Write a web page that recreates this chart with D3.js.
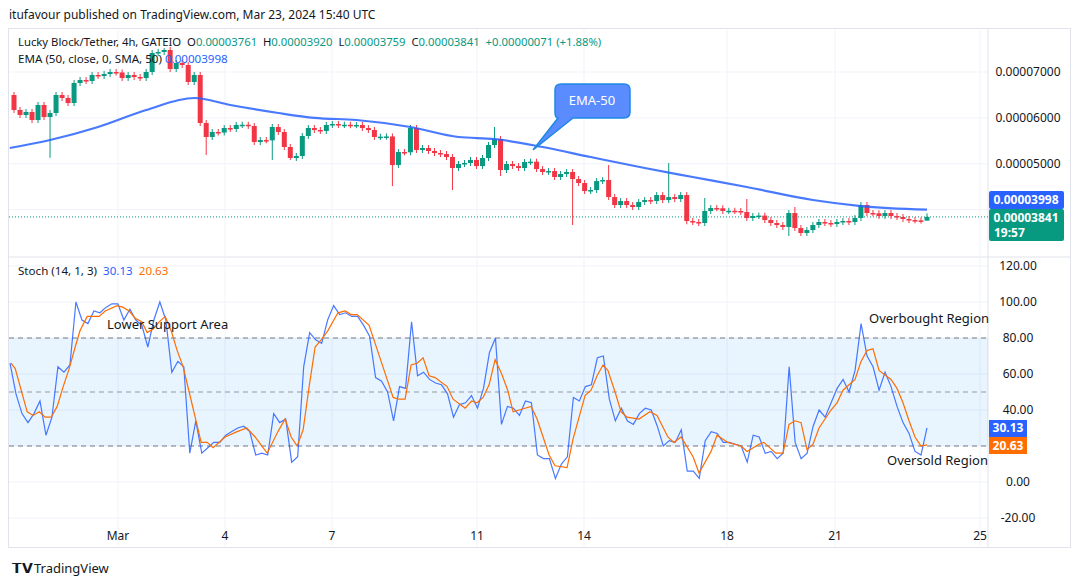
<!DOCTYPE html>
<html><head><meta charset="utf-8">
<script src="https://cdn.jsdelivr.net/npm/d3@7"></script>
<style>body{margin:0;background:#fff;font-family:"Noto Sans",Roboto,sans-serif} text{white-space:pre}</style>
</head><body><svg id="c" width="1080" height="586"></svg>
<script>
// prices in units of 1e-8 USDT
const closes=[6172,6063,6128,5954,6281,6019,6106,6499,6433,6324,6760,6826,6804,6935,6913,6956,7000,6990,6869,6935,6891,6869,7000,7414,7436,7480,7065,7196,7152,6782,6935,5888,5583,5692,5680,5779,5757,5845,5850,5823,5474,5517,5510,5801,5692,5365,5125,5169,5605,5779,5736,5714,5845,5866,5845,5850,5840,5845,5779,5736,5583,5590,5595,4972,5256,5250,5779,5300,5343,5278,5234,5212,5147,4907,4994,5016,5082,4950,5125,5409,5539,4863,4994,4950,4907,5038,5045,4885,4820,4841,4711,4776,4820,4667,4580,4405,4427,4623,4645,4274,4100,4187,4100,4057,4166,4209,4187,4318,4209,4274,4231,4318,3752,3730,3708,3970,4035,4030,3970,3975,3970,3948,3817,3861,3870,3773,3708,3664,3621,3926,3599,3490,3555,3664,3730,3708,3686,3730,3752,3730,3817,4100,3926,3920,3861,3926,3861,3839,3795,3773,3765,3761,3841];
const firstOpen=6499;
// notable wicks: [candle index, high, low]
const wicks=[[6,null,5130],[25,7520,null],[32,null,5190],[43,null,5082],[46,null,5080],[63,null,4514],[73,null,4427],[80,5801,null],[81,null,4733],[93,null,3664],[99,4972,null],[109,5016,null],[112,null,3680],[115,4253,null],[122,4231,null],[129,3991,3425],[130,4057,null],[141,4166,null],[152,3920,3759]];
// EMA 50 knots: [candle index, value]
const ema=[[-0.7,5343],[6,5518],[14,5801],[22,6172],[30,6433],[36,6281],[44,6106],[50,6000],[57,5954],[66,5801],[74,5583],[80,5539],[88,5365],[96,5147],[105,4907],[113,4711],[122,4493],[133,4209],[141,4078],[152,3998]];
const stochK=[66,49,38,33,38,45,26,36,64,61,65,100,90,88,95,94,97,99,99,90,96,90,87,75,90,100,90,61,67,64,16,34,16,19,22,22,26,28,30,31,28,15,16,15,38,33,35,11,14,64,83,79,77,
90,98,93,94,92,92,87,81,58,56,50,34,53,52,89,59,61,57,55,54,49,36,43,44,48,41,52,72,80,32,42,41,37,45,44,15,13,13,2,10,14,47,45,53,54,69,70,46,34,41,34,32,38,41,
40,31,20,23,22,29,6,6,2,23,28,27,22,22,21,20,11,26,25,16,17,13,16,64,22,13,16,31,40,36,44,52,57,50,62,88,70,64,51,61,53,42,33,27,17,15,30.13];
const stochD=[[0,66],[0.7,63],[2.7,39],[3.7,37],[4.7,39],[5.7,36],[6.7,36],[7.7,42],[8.7,53],[9.7,63],[10.7,75],[11.5,84],[12.7,92],[13.7,92],[14.7,92],[15.7,95],[17.7,98],[18.7,97],[19.7,95],[20.7,91],[21.8,89],[22.7,83],[23.7,85],[24.7,89],[25.7,92],[26.7,84],[27.7,73],[28.7,64],[29.7,50],[30.7,36],[31.7,22],[32.7,22],[33.7,19],[35.7,25],[37.7,28],[39.3,30],[40.7,25],[42.7,16],[44.5,28],[45.7,35],[46.7,25],[47.7,20],[48.7,29],[49.7,53],[50.7,75],[51.7,79],[52.8,84],[54.5,94],[55.7,95],[56.7,93],[57.7,93],[59.7,87],[60.7,77],[62.7,57],[63.7,47],[64.7,46],[65.7,46],[66.7,65],[67.7,66],[68.7,69],[69.7,59],[70.7,58],[72.7,53],[73.7,46],[75.7,41],[76.8,45],[77.7,44],[78.7,47],[79.7,54],[80.7,68],[81.8,60],[82.8,51],[83.7,39],[84.7,40],[86.7,42],[87.7,35],[88.7,25],[89.7,15],[90.7,9],[92.7,8],[93.7,24],[94.7,36],[95.7,48],[96.7,51],[97.7,59],[98.7,65],[99.5,62],[100.7,50],[101.7,39],[102.7,36],[104.7,35],[106.5,39],[107.7,37],[109.5,25],[110.5,22],[111.7,25],[113.7,14],[114.7,5],[116.7,17],[117.7,26],[119.5,22],[121.7,20],[122.7,17],[124.7,21],[125.5,22],[127.5,16],[128.7,16],[129.7,32],[130.7,34],[131.7,33],[132.7,18],[133.7,21],[134.7,30],[136.7,40],[137.7,44],[138.7,51],[140.7,57],[141.7,67],[142.7,73],[143.7,74],[144.7,62],[146.7,57],[147.7,52],[148.7,44],[149.7,34],[150.7,25],[151.7,20],[152.7,20.63]];
const priceTicks=["0.00005000","0.00006000","0.00007000"];
const priceTickVals=[5000,6000,7000];
const stochTicks=[-20,0,40,60,80,100,120];
const stochGrid=[-20,0,20,40,60,80,100,120];
const dateTicks=[["Mar",118],["4",225],["7",332],["11",477],["14",584],["18",727],["21",835],["25",980]];

const svg=d3.select("#c");
const GREEN="#089981",RED="#f23645",BLUE="#2962ff",ORANGE="#ff6d00",GRID="#f0f3fa",TXT="#131722";
const PL=9,PR=988,T1=30,B1=256,T2=258,B2=546;
svg.append("rect").attr("x",8.5).attr("y",28.5).attr("width",1062).attr("height",519).attr("fill","#fff").attr("stroke","#e0e3eb");
const x=d3.scaleLinear().domain([0,152]).range([14,927]);
const xk=d3.scaleLinear().domain([0,stochK.length-1]).range([10,927]);
const xd=d3.scaleLinear().domain([0,152.7]).range([11,927]);
const y=d3.scaleLinear().domain([3000,7000]).range([255.5,72]);
const ys=d3.scaleLinear().domain([0,100]).range([482,302]);
dateTicks.forEach(d=>{[[T1,B1],[T2,B2]].forEach(r=>svg.append("line").attr("x1",d[1]).attr("x2",d[1]).attr("y1",r[0]).attr("y2",r[1]).attr("stroke",GRID));});
[4000,5000,6000,7000].forEach(p=>svg.append("line").attr("x1",PL).attr("x2",PR).attr("y1",y(p)).attr("y2",y(p)).attr("stroke",GRID));
stochGrid.forEach(v=>svg.append("line").attr("x1",PL).attr("x2",PR).attr("y1",ys(v)).attr("y2",ys(v)).attr("stroke",GRID));
svg.append("line").attr("x1",PL).attr("x2",1070).attr("y1",257).attr("y2",257).attr("stroke","#e0e3eb");
svg.append("line").attr("x1",PR).attr("x2",PR).attr("y1",29).attr("y2",547).attr("stroke","#e0e3eb");
svg.append("rect").attr("x",PL).attr("y",ys(80)).attr("width",PR-PL).attr("height",ys(20)-ys(80)).attr("fill","rgba(33,150,243,0.1)");
[[80,"#787b86"],[50,"#9598a1"],[20,"#787b86"]].forEach(d=>svg.append("line").attr("x1",PL).attr("x2",PR).attr("y1",ys(d[0])).attr("y2",ys(d[0])).attr("stroke",d[1]).attr("stroke-dasharray","5,4"));
svg.append("line").attr("x1",PL).attr("x2",PR).attr("y1",y(3841)).attr("y2",y(3841)).attr("stroke",GREEN).attr("stroke-dasharray","1,2");
const wmap=new Map(wicks.map(w=>[w[0],w]));
closes.forEach((c,i)=>{
  const o=i?closes[i-1]:firstOpen, up=c>=o, col=up?GREEN:RED;
  const w=wmap.get(i);
  let yt=Math.min(y(o),y(c))-3, yb=Math.max(y(o),y(c))+3;
  if(w&&w[1]!=null) yt=y(w[1]); if(w&&w[2]!=null) yb=y(w[2]);
  const cx=x(i);
  svg.append("line").attr("x1",cx).attr("x2",cx).attr("y1",yt).attr("y2",yb).attr("stroke",col);
  const h=Math.max(1.5,Math.abs(y(o)-y(c)));
  svg.append("rect").attr("x",cx-2.5).attr("y",Math.min(y(o),y(c))).attr("width",5).attr("height",h).attr("fill",col);
});
svg.append("path").datum(ema).attr("fill","none").attr("stroke","#2962ff").attr("stroke-width",2.2).attr("opacity",0.85)
 .attr("d",d3.line().x(d=>x(d[0])).y(d=>y(d[1])).curve(d3.curveMonotoneX));
svg.append("path").attr("d","M567,84 H624 Q630,84 630,90 V112 Q630,118 624,118 H573 L533,150 L558,118 Q555,118 555,112 V90 Q555,84 561,84 Z")
 .attr("fill","#5b8cff").attr("stroke","#1e88e5").attr("stroke-width",1.5);
svg.append("text").attr("x",592).attr("y",105).attr("text-anchor","middle").attr("fill","#fff").attr("font-size",13).text("EMA-50");
svg.append("path").datum(stochK).attr("fill","none").attr("stroke","#2962ff").attr("stroke-width",1.2).attr("opacity",0.85)
 .attr("d",d3.line().x((d,i)=>xk(i)).y(d=>ys(d)));
svg.append("path").datum(stochD).attr("fill","none").attr("stroke",ORANGE).attr("stroke-width",1.2)
 .attr("d",d3.line().x(d=>xd(d[0])).y(d=>ys(d[1])));
priceTicks.forEach((t,i)=>svg.append("text").attr("x",1028).attr("y",y(priceTickVals[i])+4).attr("text-anchor","middle").attr("font-size",12).attr("fill",TXT).text(t));
stochTicks.forEach(v=>svg.append("text").attr("x",1018).attr("y",ys(v)+4).attr("text-anchor","middle").attr("font-size",12).attr("fill",TXT).text(v.toFixed(2)));
svg.append("rect").attr("x",989).attr("y",191).attr("width",75).attr("height",18).attr("fill",BLUE).attr("rx",2);
svg.append("text").attr("x",1026).attr("y",204).attr("text-anchor","middle").attr("font-size",12).attr("font-weight","bold").attr("fill","#fff").text("0.00003998");
svg.append("rect").attr("x",989).attr("y",209).attr("width",75).attr("height",32).attr("fill",GREEN).attr("rx",2);
svg.append("text").attr("x",1026).attr("y",222).attr("text-anchor","middle").attr("font-size",12).attr("font-weight","bold").attr("fill","#fff").text("0.00003841");
svg.append("text").attr("x",994).attr("y",237).attr("font-size",12).attr("font-weight","bold").attr("fill","#fff").text("19:57");
svg.append("rect").attr("x",989).attr("y",420).attr("width",38).attr("height",17).attr("fill",BLUE);
svg.append("text").attr("x",1008).attr("y",432).attr("text-anchor","middle").attr("font-size",12).attr("font-weight","bold").attr("fill","#fff").text("30.13");
svg.append("rect").attr("x",989).attr("y",437).attr("width",38).attr("height",17).attr("fill",ORANGE);
svg.append("text").attr("x",1008).attr("y",450).attr("text-anchor","middle").attr("font-size",12).attr("font-weight","bold").attr("fill","#fff").text("20.63");
dateTicks.forEach(d=>svg.append("text").attr("x",d[1]).attr("y",540).attr("text-anchor","middle").attr("font-size",12).attr("fill",TXT).text(d[0]));
const ann=[["Lower Support Area",107,329],["Overbought Region",869,323],["Oversold Region",887,465]];
ann.forEach(a=>svg.append("text").attr("x",a[1]).attr("y",a[2]).attr("font-size",13).attr("fill",TXT).text(a[0]));
svg.append("text").attr("x",9).attr("y",19).attr("font-size",12).attr("fill",TXT).text("itufavour published on TradingView.com, Mar 23, 2024 15:40 UTC");
const h1=svg.append("text").attr("x",18).attr("y",46).attr("font-size",11.3).attr("fill",TXT);
h1.append("tspan").text("Lucky Block/Tether, 4h, GATEIO  O");
h1.append("tspan").attr("fill",GREEN).text("0.00003761");
h1.append("tspan").text("  H");h1.append("tspan").attr("fill",GREEN).text("0.00003920");
h1.append("tspan").text("  L");h1.append("tspan").attr("fill",GREEN).text("0.00003759");
h1.append("tspan").text("  C");h1.append("tspan").attr("fill",GREEN).text("0.00003841  +0.00000071 (+1.88%)");
const h2=svg.append("text").attr("x",18).attr("y",63).attr("font-size",11.6).attr("fill",TXT);
h2.append("tspan").text("EMA (50, close, 0, SMA, 50) ");h2.append("tspan").attr("fill",BLUE).text("0.00003998");
const h3=svg.append("text").attr("x",18).attr("y",275).attr("font-size",11.6).attr("fill",TXT);
h3.append("tspan").text("Stoch (14, 1, 3)  ");h3.append("tspan").attr("fill",BLUE).text("30.13  ");h3.append("tspan").attr("fill",ORANGE).text("20.63");
svg.append("text").attr("x",12).attr("y",573).attr("font-size",14).attr("font-weight","bold").attr("fill",TXT).text("𝗧𝗩");
svg.append("text").attr("x",34).attr("y",573).attr("font-size",13).attr("fill",TXT).text("TradingView");
</script></body></html>
